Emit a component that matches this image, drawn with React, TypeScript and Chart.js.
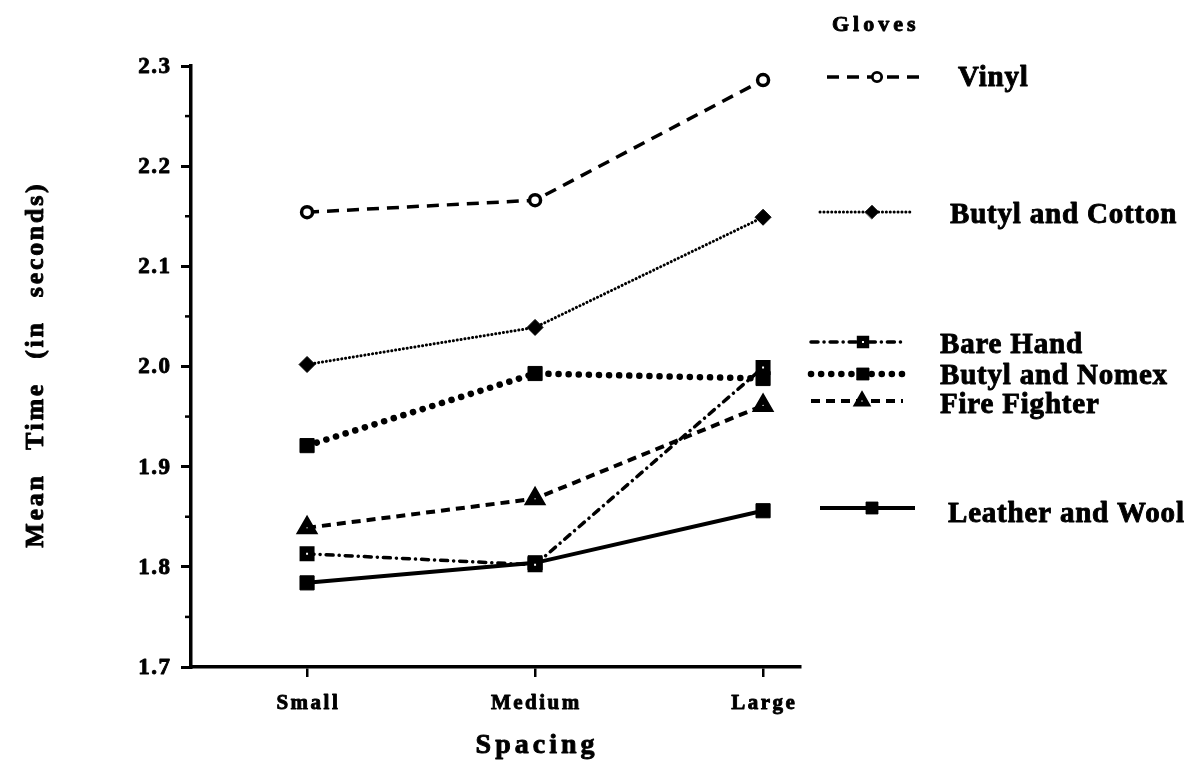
import React, { useEffect, useRef } from 'react';
import { Chart, registerables } from 'chart.js';
import { drawPoint } from 'chart.js/helpers';

Chart.register(...registerables);

// ---- data ----
const categories = ['Small', 'Medium', 'Large'];
const yTickValues = [1.7, 1.8, 1.9, 2.0, 2.1, 2.2, 2.3];
const yTickLabels = ['1.7', '1.8', '1.9', '2.0', '2.1', '2.2', '2.3'];
const yMinorTicks = [1.75, 1.85, 1.95, 2.05, 2.15, 2.25];

const vinyl = [2.154, 2.166, 2.286];
const butylCotton = [2.002, 2.039, 2.149];
const bareHand = [1.813, 1.802, 1.999];
const butylNomex = [1.921, 1.993, 1.988];
const fireFighter = [1.839, 1.868, 1.961];
const leatherWool = [1.784, 1.804, 1.856];

const seriesNames = ['Vinyl', 'Butyl and Cotton', 'Bare Hand', 'Butyl and Nomex', 'Fire Fighter', 'Leather and Wool'];
const seriesValues = [vinyl, butylCotton, bareHand, butylNomex, fireFighter, leatherWool];

const legendTitle = 'Gloves';
const xTitle = 'Spacing';
const yTitle = 'Mean Time (in seconds)';

// ---- styles ----
const SERIF = '"Liberation Serif", "Times New Roman", serif';
const seriesStyles = [
  { dash: [12, 8], width: 3.5, cap: 'butt', pointStyle: 'circle', radius: 5.5, bg: '#fff', bw: 3.5 },
  { dash: [0.1, 3.8], width: 3, cap: 'round', pointStyle: 'rectRot', radius: 8, bg: '#000', bw: 1 },
  { dash: [7, 6, 0.1, 6], width: 3.5, cap: 'round', pointStyle: 'rect', radius: 6, bg: '#fff', bw: 6.5 },
  { dash: [0.1, 10], width: 6.5, cap: 'round', pointStyle: 'rect', radius: 10, bg: '#000', bw: 1 },
  { dash: [9, 6], width: 4, cap: 'butt', pointStyle: 'triangle', radius: 7, bg: '#fff', bw: 6 },
  { dash: [], width: 4, cap: 'butt', pointStyle: 'rect', radius: 10, bg: '#000', bw: 1 },
];

const legendLayout = [
  { x0: 827, x1: 925, y: 77, mx: 877, tx: 958, ty: 79 },
  { x0: 820, x1: 912, y: 212, mx: 872, tx: 950, ty: 216 },
  { x0: 811, x1: 903, y: 342, mx: 863, tx: 940, ty: 346 },
  { x0: 811, x1: 905, y: 374, mx: 863, tx: 940, ty: 377 },
  { x0: 811, x1: 903, y: 401, mx: 862, tx: 940, ty: 406 },
  { x0: 820, x1: 915, y: 508, mx: 872, tx: 948, ty: 515 },
];

function spacedText(ctx: any, text: string, x: number, y: number, font: string, ls: number, align: string, ws = 0, heavy = 0.9) {
  ctx.save();
  ctx.font = font;
  ctx.fillStyle = '#000';
  ctx.strokeStyle = '#000';
  ctx.lineWidth = heavy;
  ctx.lineJoin = 'round';
  ctx.textBaseline = 'middle';
  ctx.letterSpacing = ls + 'px';
  ctx.wordSpacing = ws + 'px';
  const w = ctx.measureText(text).width - ls;
  let sx = x;
  if (align === 'center') sx = x - w / 2;
  else if (align === 'right') sx = x - w;
  ctx.textAlign = 'left';
  ctx.fillText(text, sx, y);
  if (heavy > 0) ctx.strokeText(text, sx, y);
  ctx.restore();
}

const decorPlugin = {
  id: 'decor',
  afterDraw(chart: any) {
    const ctx = chart.ctx;
    const xs = chart.scales.x;
    const ys = chart.scales.y;
    const area = chart.chartArea;

    // minor y ticks
    ctx.save();
    ctx.strokeStyle = '#000';
    ctx.lineWidth = 2.5;
    yMinorTicks.forEach((v) => {
      const py = ys.getPixelForValue(v);
      ctx.beginPath();
      ctx.moveTo(area.left, py);
      ctx.lineTo(area.left - 6, py);
      ctx.stroke();
    });
    ctx.restore();

    // y tick labels
    yTickValues.forEach((v, i) => {
      const py = ys.getPixelForValue(v);
      spacedText(ctx, yTickLabels[i], area.left - 21, py + 1, `bold 23px ${SERIF}`, 1.5, 'right');
    });

    // x tick labels
    categories.forEach((c, i) => {
      const px = xs.getPixelForValue(i);
      spacedText(ctx, c, px, area.bottom + 37, `bold 21px ${SERIF}`, 2.5, 'center');
    });

    // axis titles
    spacedText(ctx, xTitle, xs.getPixelForValue(1), 746, `bold 28px ${SERIF}`, 4, 'center');
    ctx.save();
    ctx.translate(36, 366);
    ctx.rotate(-Math.PI / 2);
    spacedText(ctx, yTitle, 0, 0, `bold 26px ${SERIF}`, 2.7, 'center', 14);
    ctx.restore();

    // legend
    spacedText(ctx, legendTitle, 832, 25, `bold 22px ${SERIF}`, 4, 'left');
    chart.data.datasets.forEach((ds: any, i: number) => {
      const st = seriesStyles[i];
      const L = legendLayout[i];
      ctx.save();
      ctx.strokeStyle = '#000';
      ctx.lineWidth = st.width;
      ctx.lineCap = st.cap;
      ctx.setLineDash(st.dash);
      ctx.beginPath();
      ctx.moveTo(L.x0, L.y);
      ctx.lineTo(L.x1, L.y);
      ctx.stroke();
      ctx.setLineDash([]);
      ctx.fillStyle = st.bg;
      ctx.strokeStyle = '#000';
      ctx.lineWidth = st.bw * 0.8;
      drawPoint(ctx, { pointStyle: st.pointStyle, radius: st.radius * 0.85, borderWidth: st.bw * 0.8, rotation: 0 }, L.mx, L.y);
      ctx.restore();
      spacedText(ctx, ds.label, L.tx, L.ty, `bold 29px ${SERIF}`, 0.8, 'left');
    });
  },
};

export default function App() {
  const ref = useRef<HTMLCanvasElement>(null);
  useEffect(() => {
    if (!ref.current) return;
    const datasets = seriesNames.map((name, i) => {
      const st = seriesStyles[i];
      return {
        label: name,
        data: categories.map((_, j) => ({ x: j, y: seriesValues[i][j] })),
        borderColor: '#000',
        borderWidth: st.width,
        borderDash: st.dash,
        borderCapStyle: st.cap,
        pointStyle: st.pointStyle,
        pointRadius: st.radius,
        pointBackgroundColor: st.bg,
        pointBorderColor: '#000',
        pointBorderWidth: st.bw,
        fill: false,
        tension: 0,
        clip: false,
      };
    });
    const chart = new Chart(ref.current, {
      type: 'line',
      data: { datasets } as any,
      options: {
        animation: false,
        responsive: false,
        events: [],
        layout: { padding: { left: 0, top: 66, right: 402, bottom: 0 } },
        plugins: { legend: { display: false }, tooltip: { enabled: false }, title: { display: false } },
        scales: {
          x: {
            type: 'linear',
            min: -0.509,
            max: 2.162,
            afterBuildTicks: (s: any) => {
              s.ticks = categories.map((_, i) => ({ value: i }));
            },
            afterFit: (s: any) => {
              s.height = 104;
            },
            ticks: { display: false },
            grid: { drawOnChartArea: false, drawTicks: true, tickLength: 10, lineWidth: 2.5, color: '#000' },
            border: { display: true, width: 3.5, color: '#000' },
          },
          y: {
            type: 'linear',
            min: 1.7,
            max: 2.3,
            afterBuildTicks: (s: any) => {
              s.ticks = yTickValues.map((v) => ({ value: v }));
            },
            afterFit: (s: any) => {
              s.width = 191;
            },
            ticks: { display: false },
            grid: { drawOnChartArea: false, drawTicks: true, tickLength: 10, lineWidth: 3, color: '#000' },
            border: { display: true, width: 3.5, color: '#000' },
          },
        },
      } as any,
      plugins: [decorPlugin],
    });
    return () => chart.destroy();
  }, []);
  return (
    <div style={{ position: 'absolute', left: 0, top: 0, width: 1202, height: 771, background: '#fff' }}>
      <canvas ref={ref} width={1202} height={771} />
    </div>
  );
}
